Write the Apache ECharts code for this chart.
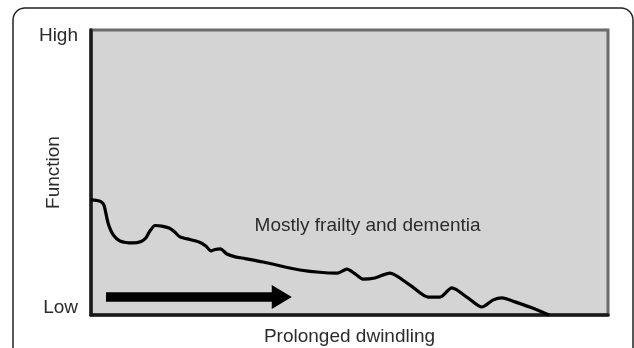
<!DOCTYPE html>
<html>
<head>
<meta charset="utf-8">
<script src="https://cdn.jsdelivr.net/npm/echarts@6/dist/echarts.min.js"></script>
<style>
  html, body { margin: 0; padding: 0; background: #fff; }
  #chart { width: 634px; height: 348px; }
</style>
</head>
<body>
<div id="chart"></div>
<script type="text/javascript">
// time (0-100) vs function (0-100)
var timeValues = [0, 1.0, 1.9, 2.5, 3.3, 4.3, 5.6, 8.1, 9.7, 10.6, 11.4, 12.4, 13.7, 15.1, 16.2, 17.2,
  18.6, 20.9, 22.2, 23.2, 24.0, 25.0, 26.3, 27.9, 29.8, 33.3, 40.4, 47.6, 49.5, 51.1, 52.6, 54.9,
  57.8, 61.7, 65.2, 67.5, 69.8, 72.9, 75.6, 77.8, 79.5, 82.0, 85.9, 88.6];
var functionValues = [40.4, 40.2, 39.8, 38.6, 32.3, 28.1, 26.0, 25.3, 25.8, 27.0, 29.5, 31.4, 31.2, 30.5, 29.1, 27.4,
  26.7, 25.6, 24.2, 22.5, 23.0, 23.2, 21.4, 20.4, 19.8, 18.6, 15.8, 14.7, 16.1, 14.4, 12.6, 13.0,
  14.7, 10.5, 6.3, 6.3, 9.5, 6.0, 2.8, 5.3, 6.0, 4.6, 2.1, 0.0];

var yTicks = [0, 100];
var yTickLabels = ["Low", "High"];

var arrowFrom = [2.9, 6.3];
var arrowTo = [36.9, 6.3];

var noteText = "Mostly frailty and dementia";
var notePos = [53.5, 31.4];

var xName = "Prolonged dwindling";
var yName = "Function";

var textColor = "#2b2b2b";
var fontFamily = "'Liberation Sans', Arial, sans-serif";

var chart = echarts.init(document.getElementById("chart"));

var lineData = [];
for (var i = 0; i < timeValues.length; i++) {
  lineData.push([timeValues[i], functionValues[i]]);
}

chart.setOption({
  animation: false,
  textStyle: { fontFamily: fontFamily },
  graphic: [
    {
      // outer rounded frame
      type: "rect",
      shape: { x: 13, y: 8, width: 620, height: 400, r: 12 },
      style: { fill: "none", stroke: "#222", lineWidth: 1.5 },
      z: 0
    }
  ],
  grid: {
    left: 91,
    top: 30,
    right: 26,
    bottom: 33,
    outerBoundsMode: "none",
    show: true,
    backgroundColor: "#d4d4d4",
    borderColor: "#6b6b6b",
    borderWidth: 3
  },
  xAxis: {
    type: "value",
    min: 0,
    max: 100,
    name: xName,
    nameLocation: "middle",
    nameMoveOverlap: false,
    nameGap: 12,
    nameTextStyle: { color: textColor, fontSize: 19, fontFamily: fontFamily },
    axisLine: { show: true, lineStyle: { color: "#1a1a1a", width: 3.5 } },
    axisTick: { show: false },
    axisLabel: { show: false },
    splitLine: { show: false }
  },
  yAxis: {
    type: "value",
    min: yTicks[0],
    max: yTicks[1],
    interval: 100,
    name: yName,
    nameLocation: "middle",
    nameMoveOverlap: false,
    nameGap: 28,
    nameTextStyle: { color: textColor, fontSize: 19, fontFamily: fontFamily },
    axisLine: { show: true, lineStyle: { color: "#1a1a1a", width: 3.5 } },
    axisTick: { show: false },
    splitLine: { show: false },
    axisLabel: {
      margin: 13,
      color: textColor,
      fontSize: 19,
      formatter: function (v) {
        var idx = yTicks.indexOf(v);
        return idx === 1 ? "{hi|" + yTickLabels[idx] + "}" : "{lo|" + yTickLabels[idx] + "}";
      },
      rich: {
        hi: { fontSize: 19, color: textColor, fontFamily: fontFamily, padding: [12, 0, 0, 0] },
        lo: { fontSize: 19, color: textColor, fontFamily: fontFamily, padding: [0, 0, 14, 0] }
      }
    }
  },
  series: [
    {
      type: "line",
      data: lineData,
      smooth: 0.25,
      showSymbol: false,
      clip: false,
      lineStyle: { color: "#000", width: 3.2 },
      markLine: {
        silent: true,
        symbol: ["none", "triangle"],
        symbolSize: [24, 20],
        label: { show: false },
        lineStyle: { color: "#000", width: 9.5, type: "solid" },
        data: [[{ coord: arrowFrom }, { coord: arrowTo }]]
      },
      markPoint: {
        silent: true,
        symbolSize: 0,
        label: {
          show: true,
          position: "inside",
          formatter: noteText,
          color: textColor,
          fontSize: 19,
          fontFamily: fontFamily
        },
        data: [{ coord: notePos }]
      }
    }
  ]
});
</script>
</body>
</html>
